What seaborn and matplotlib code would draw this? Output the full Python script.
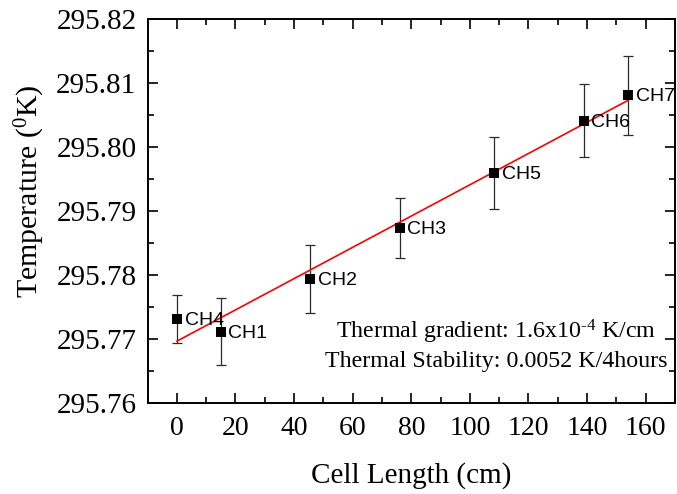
import numpy as np
import pandas as pd
import seaborn as sns
import matplotlib
matplotlib.use('Agg')
import matplotlib.pyplot as plt
from matplotlib.ticker import MultipleLocator, FormatStrFormatter

# data
channels = ["CH4", "CH1", "CH2", "CH3", "CH5", "CH6", "CH7"]
length_cm = [0, 15, 45.6, 76, 108.2, 138.8, 154]
temp_K = [295.7731, 295.7711, 295.7793, 295.7873, 295.7959, 295.8041, 295.8081]
temp_err = [0.0038, 0.0052, 0.0053, 0.0047, 0.0056, 0.0057, 0.0062]

df = pd.DataFrame({"ch": channels, "x": length_cm, "T": temp_K, "err": temp_err})

sns.set_theme(style="ticks")
plt.rcParams['font.family'] = ['Liberation Serif', 'DejaVu Serif']
plt.rcParams['mathtext.fontset'] = 'custom'
plt.rcParams['mathtext.rm'] = 'Liberation Serif'
plt.rcParams['mathtext.it'] = 'Liberation Serif:italic'
plt.rcParams['text.color'] = 'black'
plt.rcParams['axes.labelcolor'] = 'black'

fig = plt.figure(figsize=(6.77, 4.94), dpi=100)
ax = fig.add_axes([0.218, 0.185, 0.779, 0.776])

ax.errorbar(df["x"], df["T"], yerr=df["err"], fmt='none', ecolor='#2a2a2a',
            elinewidth=0.9, capsize=3.6, capthick=0.9, zorder=2)
sns.regplot(data=df, x="x", y="T", ax=ax, scatter=False, ci=None,
            line_kws=dict(color='red', lw=1.2, zorder=3))
sns.scatterplot(data=df, x="x", y="T", ax=ax, marker='s', s=55, color='black',
                edgecolor='black', linewidth=0, zorder=4)

for _, r in df.iterrows():
    ax.annotate(r["ch"], (r["x"], r["T"]), xytext=(5.5, -1), textcoords='offset points',
                va='center', ha='left', fontsize=14, family='Liberation Sans', zorder=5)

ax.text(0.661, 0.184, r"Thermal gradient: 1.6x10$^{\text{-}4}$ K/cm", transform=ax.transAxes,
        ha='center', va='center', fontsize=17.3)
ax.text(0.661, 0.106, "Thermal Stability: 0.0052 K/4hours", transform=ax.transAxes,
        ha='center', va='center', fontsize=17.3)

ax.set_xlim(-10, 170)
ax.set_ylim(295.76, 295.82)
ax.xaxis.set_major_locator(MultipleLocator(20))
ax.xaxis.set_minor_locator(MultipleLocator(10))
ax.yaxis.set_major_locator(MultipleLocator(0.01))
ax.yaxis.set_minor_locator(MultipleLocator(0.005))
ax.yaxis.set_major_formatter(FormatStrFormatter('%.2f'))
ax.tick_params(which='both', direction='in', top=True, right=True, width=1.2,
               colors='black')
ax.tick_params(which='major', length=7)
ax.tick_params(which='minor', length=4)
ax.tick_params(axis='x', which='major', labelsize=20, pad=10)
ax.tick_params(axis='y', which='major', labelsize=21, pad=8)
for s in ax.spines.values():
    s.set_linewidth(1.4)
    s.set_color('black')

ax.set_xlabel("Cell Length (cm)", fontsize=21, labelpad=15)
ax.set_ylabel(r"Temperature ($^{0}$K)", fontsize=21.5, labelpad=7, y=0.552)

fig.savefig("out.png", dpi=100)
